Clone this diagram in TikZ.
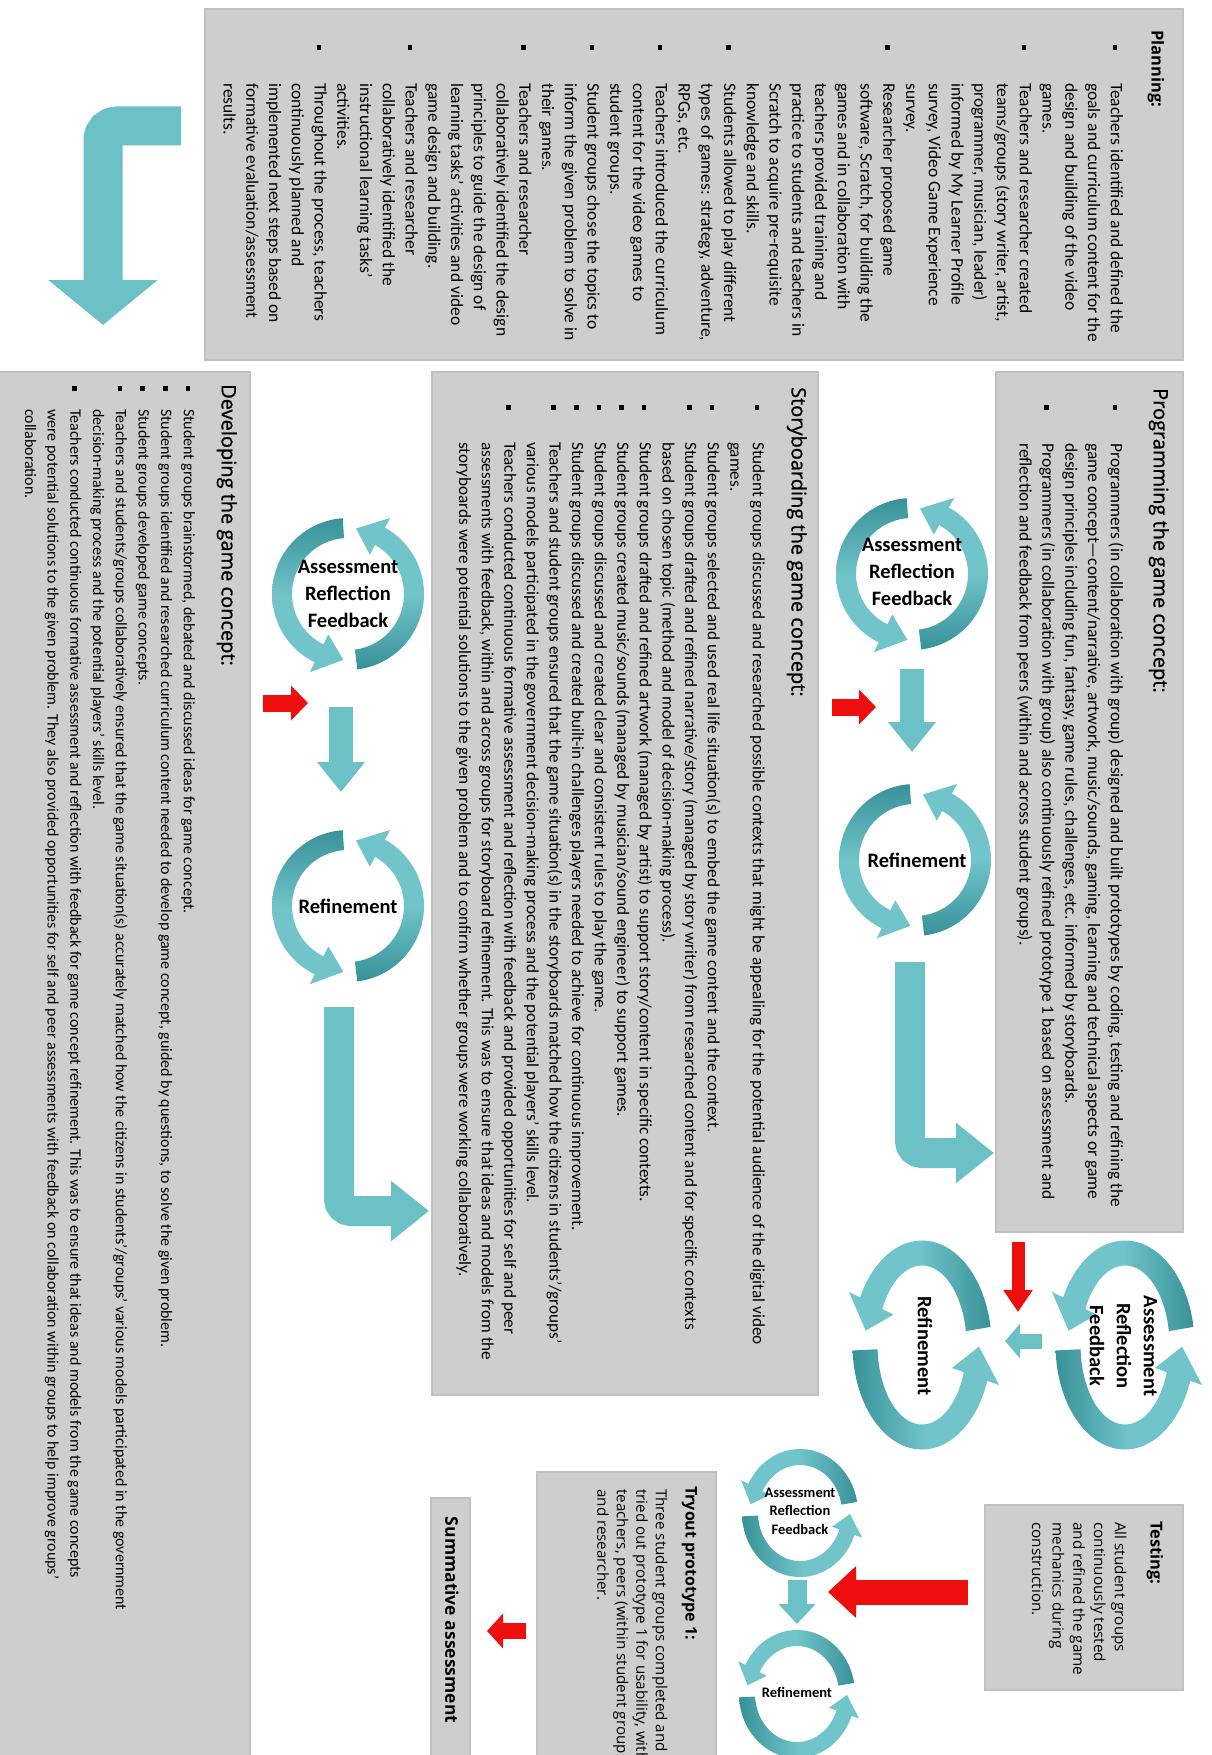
\documentclass[tikz,border=0pt]{standalone}
\usepackage{fontspec}
\setmainfont{Carlito}
\newfontfamily\headfont{Open Sans}
\newfontfamily\headmedium[FakeBold=1]{Open Sans}
\usetikzlibrary{arrows.meta}

\definecolor{boxgray}{RGB}{206,206,206}
\definecolor{boxedge}{RGB}{192,192,192}
\definecolor{tealL}{RGB}{112,196,202}
\definecolor{tealD}{RGB}{56,146,152}
\definecolor{tealA}{RGB}{108,193,199}
\definecolor{redA}{RGB}{238,14,14}

% bullet lines: square bullet in a fixed-width slot, continuation lines indented
\newlength\bulind
\newcommand\Bul{\strut\makebox[\bulind][l]{\raisebox{1.9pt}{\rule{4.5pt}{4.5pt}}}}
\newcommand\Cnt{\strut\hspace*{\bulind}}

% curved ribbon arrow on an ellipse: centre, radii, half band width, half head width
\newcommand\setcyc[6]{\def\Ccx{#1}\def\Ccy{#2}\def\Cca{#3}\def\Ccb{#4}\def\Ccw{#5}\def\Cch{#6}}
% #2 tail angle, #3 head base angle, #4 tip angle
\newcommand\ribbon[4][]{%
  \path[#1] plot[domain=0:1,samples=48]
      ({\Ccx+(\Cca+\Ccw)*cos(#2+(#3-(#2))*\x)},{\Ccy+(\Ccb+\Ccw)*sin(#2+(#3-(#2))*\x)})
    -- ({\Ccx+(\Cca+\Cch)*cos(#3)},{\Ccy+(\Ccb+\Cch)*sin(#3)})
    -- ({\Ccx+\Cca*cos(#4)},{\Ccy+\Ccb*sin(#4)})
    -- ({\Ccx+(\Cca-\Cch)*cos(#3)},{\Ccy+(\Ccb-\Cch)*sin(#3)})
    -- plot[domain=0:1,samples=48]
      ({\Ccx+(\Cca-\Ccw)*cos(#3+(#2-(#3))*\x)},{\Ccy+(\Ccb-\Ccw)*sin(#3+(#2-(#3))*\x)})
    -- cycle;}
% cycle with arrow heads at top and bottom
\newcommand\cycV[6]{\setcyc{#1}{#2}{#3}{#4}{#5}{#6}%
  \ribbon[top color=tealD,bottom color=tealL,middle color=tealL]{266}{116}{94}%
  \ribbon[bottom color=tealD,top color=tealL,middle color=tealL]{83}{-61}{-83}}
% cycle with arrow heads at left and right
\newcommand\cycH[6]{\setcyc{#1}{#2}{#3}{#4}{#5}{#6}%
  \ribbon[right color=tealD,left color=tealL,middle color=tealL]{350}{207}{189}%
  \ribbon[left color=tealD,right color=tealL,middle color=tealL]{177}{20}{1}}

\begin{document}
\begin{tikzpicture}[x=1pt,y=-1pt,
  panel/.style={fill=boxgray,draw=boxedge,line width=1.5pt},
  heading/.style={rotate=-90,anchor=base west,inner sep=0pt,font=\headmedium\fontsize{20}{24}\selectfont},
  headbold/.style={rotate=-90,anchor=base west,inner sep=0pt,font=\headfont\bfseries\fontsize{16.5}{20}\selectfont},
  bodytext/.style={rotate=-90,anchor=north west,inner sep=0pt,align=left},
  cyclabel/.style={align=center,inner sep=0pt,font=\bfseries\fontsize{20.5}{27}\selectfont},
  smalllabel/.style={align=center,inner sep=0pt,font=\bfseries\fontsize{14.5}{18.5}\selectfont},
  downflow/.style={draw=tealA,line width=24pt,-{Triangle[width=46pt,length=30pt]}},
  bendflow/.style={draw=tealA,line width=30pt,rounded corners=12pt,-{Triangle[width=58pt,length=38pt]}},
  redflow/.style={draw=redA,line width=17pt,-{Triangle[width=34pt,length=17pt]}}]

\useasboundingbox (0,0) rectangle (1211,1755);
\fill[white] (0,0) rectangle (1211,1755);
\clip (0,0) rectangle (1211,1755);

% ---------- panels ----------
\path[panel] (205,9) rectangle (1183,360);
\path[panel] (996,372) rectangle (1183,1232);
\path[panel] (432,372) rectangle (818,1395);
\path[panel] (-10,372) rectangle (250,1775);
\path[panel] (985,1505) rectangle (1183,1690);
\path[panel] (537,1472) rectangle (716,1775);
\path[panel] (431,1498) rectangle (470,1775);

% ---------- Planning ----------
\node[headbold] (planH) at (1151.5,30) {Planning:};
\node[bodytext,font={\fontsize{17.5}{22.75}\selectfont\setlength\bulind{38pt}}] (planT) at (1127,45) {%
\Bul Teachers identified and defined the\\
\Cnt goals and curriculum content for the\\
\Cnt design and building of the video\\
\Cnt games.\\
\Bul Teachers and researcher created\\
\Cnt teams/groups (story writer, artist,\\
\Cnt programmer, musician, leader)\\
\Cnt informed by My Learner Profile\\
\Cnt survey, Video Game Experience\\
\Cnt survey.\\
\Bul Researcher proposed game\\
\Cnt software, Scratch, for building the\\
\Cnt games and in collaboration with\\
\Cnt teachers provided training and\\
\Cnt practice to students and teachers in\\
\Cnt Scratch to acquire pre-requisite\\
\Cnt knowledge and skills.\\
\Bul Students allowed to play different\\
\Cnt types of games: strategy, adventure,\\
\Cnt RPGs, etc.\\
\Bul Teachers introduced the curriculum\\
\Cnt content for the video games to\\
\Cnt student groups.\\
\Bul Student groups chose the topics to\\
\Cnt inform the given problem to solve in\\
\Cnt their games.\\
\Bul Teachers and researcher\\
\Cnt collaboratively identified the design\\
\Cnt principles to guide the design of\\
\Cnt learning tasks' activities and video\\
\Cnt game design and building.\\
\Bul Teachers and researcher\\
\Cnt collaboratively identified the\\
\Cnt instructional learning tasks'\\
\Cnt activities.\\
\Bul Throughout the process, teachers\\
\Cnt continuously planned and\\
\Cnt implemented next steps based on\\
\Cnt formative evaluation/assessment\\
\Cnt results.};

% ---------- Programming ----------
\node[heading] (progH) at (1153.6,388) {Programming the game concept:};
\node[bodytext,font={\fontsize{17.5}{22.8}\selectfont\setlength\bulind{38pt}}] (progT) at (1127,405) {%
\Bul Programmers (in collaboration with group) designed and built prototypes by coding, testing and refining the\\
\Cnt game concept—content/narrative, artwork, music/sounds, gaming, learning and technical aspects or game\\
\Cnt design principles including fun, fantasy, game rules, challenges, etc. informed by storyboards.\\
\Bul Programmers (in collaboration with group) also continuously refined prototype 1 based on assessment and\\
\Cnt reflection and feedback from peers (within and across student groups).};

% ---------- Storyboarding ----------
\node[heading] (storyH) at (791.6,387) {Storyboarding the game concept:};
\node[bodytext,font={\fontsize{17.2}{22.6}\selectfont\setlength\bulind{37pt}}] (storyT) at (769,405) {%
\Bul Student groups discussed and researched possible contexts that might be appealing for the potential audience of the digital video\\
\Cnt games.\\
\Bul Student groups selected and used real life situation(s) to embed the game content and the context.\\
\Bul Student groups drafted and refined narrative/story (managed by story writer) from researched content and for specific contexts\\
\Cnt based on chosen topic (method and model of decision-making process).\\
\Bul Student groups drafted and refined artwork (managed by artist) to support story/content in specific contexts.\\
\Bul Student groups created music/sounds (managed by musician/sound engineer) to support games.\\
\Bul Student groups discussed and created clear and consistent rules to play the game.\\
\Bul Student groups discussed and created built-in challenges players needed to achieve for continuous improvement.\\
\Bul Teachers and student groups ensured that the game situation(s) in the storyboards matched how the citizens in students'/groups'\\
\Cnt various models participated in the government decision-making process and the potential players' skills level.\\
\Bul Teachers conducted continuous formative assessment and reflection with feedback and provided opportunities for self and peer\\
\Cnt assessments with feedback, within and across groups for storyboard refinement. This was to ensure that ideas and models from the\\
\Cnt storyboards were potential solutions to the given problem and to confirm whether groups were working collaboratively.};

% ---------- Developing ----------
\node[heading] (devH) at (221.6,384) {Developing the game concept:};
\node[bodytext,font={\fontsize{16}{22.7}\selectfont\setlength\bulind{23pt}}] (devT) at (200,386) {%
\Bul Student groups brainstormed, debated and discussed ideas for game concept.\\
\Bul Student groups identified and researched curriculum content needed to develop game concept, guided by questions, to solve the given problem.\\
\Bul Student groups developed game concepts.\\
\Bul Teachers and students/groups collaboratively ensured that the game situation(s) accurately matched how the citizens in students'/groups' various models participated in the government\\
\Cnt decision-making process and the potential players' skills level.\\
\Bul Teachers conducted continuous formative assessment and reflection with feedback for game concept refinement. This was to ensure that ideas and models from the game concepts\\
\Cnt were potential solutions to the given problem. They also provided opportunities for self and peer assessments with feedback on collaboration within groups to help improve groups'\\
\Cnt collaboration.};

% ---------- Testing ----------
\node[headbold] (testH) at (1150.5,1521) {Testing:};
\node[bodytext,font={\headfont\fontsize{15.3}{20.7}\selectfont}] (testT) at (1129.5,1522) {%
\strut All student groups\\
\strut continuously tested\\
\strut and refined the game\\
\strut mechanics during\\
\strut construction.};

% ---------- Tryout ----------
\node[headbold,font=\headfont\bfseries\fontsize{16}{20}\selectfont] (tryH) at (685.6,1486) {Tryout prototype 1:};
\node[bodytext,font={\headfont\fontsize{15.2}{19.5}\selectfont}] (tryT) at (669.6,1489) {%
\strut Three student groups completed and\\
\strut tried out prototype 1 for usability, with\\
\strut teachers, peers (within student groups)\\
\strut and researcher.};

% ---------- Summative ----------
\node[rotate=-90,inner sep=0pt,font=\headfont\bfseries\fontsize{17.5}{21}\selectfont] (sumT) at (452,1620) {Summative assessment};

% ---------- flow from planning ----------
\coordinate (pl1) at (181,126);
\coordinate (pl2) at (103,325);
\draw[draw=tealA,line width=39pt,rounded corners=14pt,-{Triangle[width=107pt,length=45pt]}] (pl1) -| (pl2);

% ---------- developing column cycles ----------
\cycV{348}{594}{66}{66}{10}{21}
\node[cyclabel] (b1) at (348,594) {Assessment\\Reflection\\Feedback};
\cycV{348}{906}{66}{66}{10}{21}
\node[cyclabel] (b2) at (348,906) {Refinement};
\coordinate (bd1) at (341,707);
\coordinate (bd2) at (341,792);
\draw[downflow] (bd1) -- (bd2);
\coordinate (br1) at (263,703);
\coordinate (br2) at (308,703);
\draw[redflow] (br1) -- (br2);
\coordinate (bl1) at (339,1007);
\coordinate (bl2) at (429,1211);
\draw[bendflow] (bl1) |- (bl2);

% ---------- storyboarding column cycles ----------
\cycV{912}{574}{66}{66}{10}{21}
\node[cyclabel] (a1) at (912,572) {Assessment\\Reflection\\Feedback};
\cycV{915}{860}{66}{66}{10}{21}
\node[cyclabel] (a2) at (917,860) {Refinement};
\coordinate (ad1) at (912,669);
\coordinate (ad2) at (912,752);
\draw[downflow] (ad1) -- (ad2);
\coordinate (ar1) at (832,707);
\coordinate (ar2) at (876,707);
\draw[redflow] (ar1) -- (ar2);
\coordinate (al1) at (910,962);
\coordinate (al2) at (994,1153);
\draw[bendflow] (al1) |- (al2);

% ---------- programming cycles (turned) ----------
\cycH{1125}{1345}{57}{92}{12.5}{25}
\node[cyclabel,rotate=-90] (c1) at (1123.5,1346) {Assessment\\Reflection\\Feedback};
\cycH{922}{1345}{57}{92}{12.5}{25}
\node[cyclabel,rotate=-90] (c2) at (925,1346) {Refinement};
\coordinate (cr1) at (1018,1242);
\coordinate (cr2) at (1018,1312);
\draw[draw=redA,line width=13pt,-{Triangle[width=28pt,length=22pt]}] (cr1) -- (cr2);
\coordinate (cs1) at (1042,1341);
\coordinate (cs2) at (1005,1341);
\draw[draw=tealA,line width=15pt,-{Triangle[width=34pt,length=15pt]}] (cs1) -- (cs2);

% ---------- tryout cycles ----------
\cycH{800}{1513}{50}{56}{8}{16}
\node[smalllabel] (t1) at (800,1511) {Assessment\\Reflection\\Feedback};
\cycH{797}{1694}{50}{56}{8}{16}
\node[smalllabel] (t2) at (797,1692) {Refinement};
\coordinate (td1) at (797,1580);
\coordinate (td2) at (797,1624);
\draw[draw=tealA,line width=19pt,-{Triangle[width=36pt,length=20pt]}] (td1) -- (td2);
\coordinate (tr1) at (968,1592);
\coordinate (tr2) at (828,1592);
\draw[draw=redA,line width=25pt,-{Triangle[width=50pt,length=28pt]}] (tr1) -- (tr2);
\coordinate (sr1) at (526,1631);
\coordinate (sr2) at (487,1631);
\draw[draw=redA,line width=16pt,-{Triangle[width=34pt,length=16pt]}] (sr1) -- (sr2);
\end{tikzpicture}
\end{document}
